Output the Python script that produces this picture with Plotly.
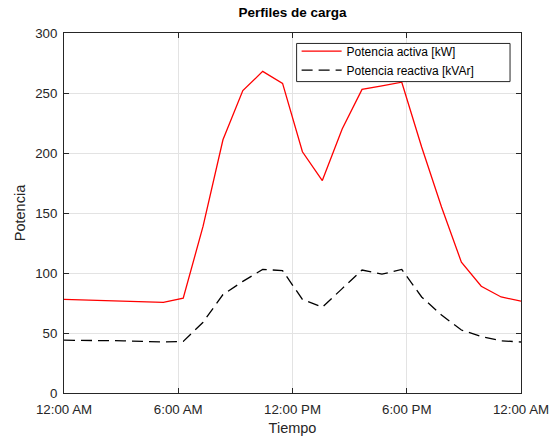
import plotly.graph_objects as go

TITLE: str = 'Perfiles de carga'
AXIS_COLOR: str = '#262626'
GRID_COLOR: str = '#e3e3e3'
FONT: str = 'Liberation Sans, Arial, sans-serif'

# 24 samples spread evenly over one day (00:00 -> 24:00)
tiempo = [
    '2023-01-01 00:00:00', '2023-01-01 01:02:37', '2023-01-01 02:05:13',
    '2023-01-01 03:07:50', '2023-01-01 04:10:26', '2023-01-01 05:13:03',
    '2023-01-01 06:15:39', '2023-01-01 07:18:16', '2023-01-01 08:20:52',
    '2023-01-01 09:23:29', '2023-01-01 10:26:05', '2023-01-01 11:28:42',
    '2023-01-01 12:31:18', '2023-01-01 13:33:55', '2023-01-01 14:36:31',
    '2023-01-01 15:39:08', '2023-01-01 16:41:44', '2023-01-01 17:44:21',
    '2023-01-01 18:46:57', '2023-01-01 19:49:34', '2023-01-01 20:52:10',
    '2023-01-01 21:54:47', '2023-01-01 22:57:23', '2023-01-02 00:00:00',
]

potencia_activa = [
    78, 77.5, 77.5, 77, 76, 75.5, 79, 139, 211, 252, 268, 258,
    201, 177, 220, 253, 256, 259, 205, 155, 109, 89, 80, 76.5,
]

potencia_reactiva = [
    44, 44, 44, 43.5, 43, 42.5, 43, 59, 82, 93, 103, 102,
    78, 71.5, 87, 102.5, 99, 103, 80, 65, 52.5, 47, 43.5, 42.5,
]

tick_vals = ['2023-01-01 00:00', '2023-01-01 06:00', '2023-01-01 12:00',
             '2023-01-01 18:00', '2023-01-02 00:00']
tick_text = ['12:00 AM', '6:00 AM', '12:00 PM', '6:00 PM', '12:00 AM']
y_ticks = [0, 50, 100, 150, 200, 250, 300]

fig = go.Figure()
fig.add_trace(go.Scatter(
    x=tiempo, y=potencia_activa, mode='lines',
    name='Potencia activa [kW]',
    line=dict(color='#ff0000', width=1.3)))
fig.add_trace(go.Scatter(
    x=tiempo, y=potencia_reactiva, mode='lines',
    name='Potencia reactiva [kVAr]',
    line=dict(color='#000000', width=1.3, dash='11px,6px')))

axis_common = dict(
    showline=True, linecolor=AXIS_COLOR, linewidth=1, mirror='ticks',
    ticks='inside', ticklen=5, tickcolor=AXIS_COLOR, tickwidth=1,
    showgrid=True, gridcolor=GRID_COLOR, gridwidth=1,
    zeroline=False, tickfont=dict(size=13.3, color=AXIS_COLOR),
)

# legend frame (matlab style box, wider than plotly's own)
fig.add_shape(
    type='rect', xref='paper', yref='paper',
    x0=0.509, x1=0.976, y0=0.865, y1=0.971,
    line=dict(color=AXIS_COLOR, width=1), fillcolor='white', layer='above')

fig.update_layout(
    width=550, height=436,
    margin=dict(l=64, r=29, t=33, b=43),
    plot_bgcolor='white', paper_bgcolor='white',
    font=dict(family=FONT, color=AXIS_COLOR),
    title=dict(text='<b>' + TITLE + '</b>', x=0.532, xanchor='center',
               y=0.972, yanchor='middle',
               font=dict(size=13.5, color='#000000')),
    xaxis=dict(
        axis_common, type='date',
        range=[tick_vals[0], tick_vals[-1]],
        tickvals=tick_vals, ticktext=tick_text,
        title=dict(text='Tiempo', font=dict(size=14.5), standoff=7),
        ticklabelstandoff=4,
        automargin=False,
    ),
    yaxis=dict(
        axis_common, range=[0, 300], tickvals=y_ticks,
        title=dict(text='Potencia', font=dict(size=14.5), standoff=6),
        ticklabelstandoff=3,
        automargin=False,
    ),
    legend=dict(
        x=0.509, y=0.99, xanchor='left', yanchor='top',
        bgcolor='rgba(0,0,0,0)', borderwidth=0,
        font=dict(size=12, color='#000000'),
        itemwidth=40, tracegroupgap=0,
    ),
    showlegend=True,
)

# drop the default 8px body margin so the figure sits at the window corner
fig.write_html("out.html", config={'displayModeBar': False},
               post_script="document.body.style.margin='0';")
